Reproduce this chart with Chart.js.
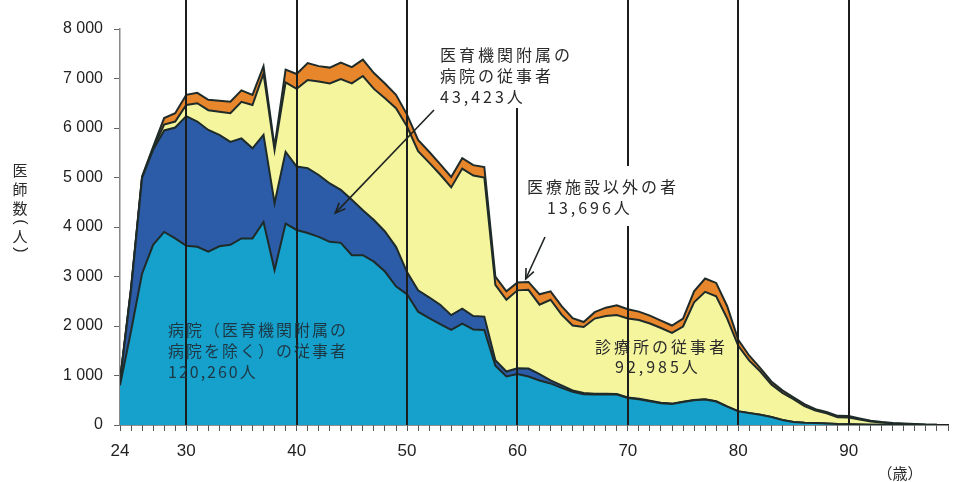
<!DOCTYPE html>
<html lang="ja">
<head>
<meta charset="utf-8">
<title>施設の種別にみた年齢各歳別医師数</title>
<script src="https://cdn.jsdelivr.net/npm/chart.js@4.4.1/dist/chart.umd.min.js"></script>
<style>
    html, body { margin: 0; padding: 0; background: #fff; }
    #wrap { width: 958px; height: 482px; }
</style>
</head>
<body>
<div id="wrap"><canvas id="doctorChart" width="958" height="482"></canvas></div>
<script>
// 年齢（歳）
const ages = [24, 25, 26, 27, 28, 29, 30, 31, 32, 33, 34, 35, 36, 37, 38, 39,
    40, 41, 42, 43, 44, 45, 46, 47, 48, 49, 50, 51, 52, 53, 54, 55, 56, 57, 58, 59,
    60, 61, 62, 63, 64, 65, 66, 67, 68, 69, 70, 71, 72, 73, 74, 75, 76, 77, 78, 79,
    80, 81, 82, 83, 84, 85, 86, 87, 88, 89, 90, 91, 92, 93, 94, 95, 96, 97, 98];

// 病院（医育機関附属の病院を除く）の従事者
const hospital = [800, 1900, 3060, 3640, 3900, 3770, 3620, 3600, 3500, 3610, 3640, 3770, 3770, 4100, 3130, 4070,
    3940, 3880, 3800, 3700, 3680, 3430, 3430, 3300, 3100, 2800, 2640, 2290, 2160, 2040, 1920, 2050, 1930, 1920, 1200, 980,
    1030, 980, 900, 840, 750, 670, 620, 615, 620, 615, 545, 520, 480, 440, 425, 465, 500, 515, 475, 370,
    275, 240, 205, 160, 100, 60, 45, 38, 30, 20, 15, 10, 6, 4, 3, 2, 1, 1, 0];

// 医育機関附属の病院の従事者
const univHospital = [80, 830, 1930, 1920, 2050, 2240, 2620, 2530, 2460, 2250, 2080, 2020, 1820, 1760, 1350, 1450,
    1280, 1310, 1250, 1180, 1070, 1120, 910, 840, 810, 800, 450, 430, 420, 390, 300, 300, 270, 270, 110, 100,
    115, 160, 130, 60, 50, 30, 25, 15, 12, 10, 10, 10, 10, 8, 7, 7, 7, 7, 7, 6,
    5, 4, 3, 3, 2, 2, 1, 1, 1, 1, 1, 0, 0, 0, 0, 0, 0, 0, 0];

// 診療所の従事者
const clinic = [10, 20, 10, 30, 120, 120, 225, 370, 400, 470, 580, 740, 875, 1240, 1070, 1400,
    1570, 1780, 1890, 2020, 2240, 2350, 2710, 2650, 2690, 2800, 2940, 2810, 2720, 2630, 2580, 2830, 2840, 2810, 1520, 1450,
    1575, 1590, 1400, 1630, 1430, 1310, 1335, 1520, 1568, 1595, 1595, 1590, 1560, 1512, 1428, 1518, 1973, 2168, 2118, 1774,
    1320, 1056, 872, 657, 548, 458, 334, 251, 204, 134, 134, 100, 64, 46, 29, 20, 13, 5, 3];

// 医療施設以外の者
const nonMedical = [10, 20, 20, 30, 130, 170, 205, 210, 210, 220, 230, 230, 205, 150, 70, 260,
    300, 340, 310, 320, 330, 330, 330, 320, 300, 270, 240, 230, 220, 210, 210, 210, 210, 210, 170, 170,
    160, 160, 210, 170, 170, 150, 100, 130, 170, 200, 190, 170, 160, 150, 150, 160, 220, 270, 270, 250,
    120, 100, 70, 60, 50, 40, 40, 30, 30, 30, 30, 20, 15, 10, 8, 6, 4, 2, 1];

const yTicks = [0, 1000, 2000, 3000, 4000, 5000, 6000, 7000, 8000];
const xLabels = [24, 30, 40, 50, 60, 70, 80, 90];
const decades = [30, 40, 50, 60, 70, 80, 90];

const jpFont = '"Noto Sans CJK JP", "Noto Sans", sans-serif';
const numFont = '"Liberation Sans", Arial, sans-serif';

// データを {x, y} に変換
function toPoints(values) {
    return ages.map((a, i) => ({ x: a, y: values[i] }));
}

function makeSet(label, values, color, fill) {
    return {
        label: label,
        data: toPoints(values),
        backgroundColor: color,
        borderColor: '#1f2b29',
        borderWidth: 2,
        pointRadius: 0,
        tension: 0,
        fill: fill
    };
}

// 文字間隔をあけて描く
function spacedText(ctx, text, x, y, gap) {
    let cx = x;
    for (const ch of text) {
        ctx.fillText(ch, cx, y);
        cx += ctx.measureText(ch).width + gap;
    }
    return cx;
}

function arrow(ctx, x1, y1, x2, y2) {
    const ang = Math.atan2(y2 - y1, x2 - x1);
    ctx.beginPath();
    ctx.moveTo(x1, y1);
    ctx.lineTo(x2, y2);
    ctx.stroke();
    ctx.beginPath();
    ctx.moveTo(x2 - 11 * Math.cos(ang - 0.4), y2 - 11 * Math.sin(ang - 0.4));
    ctx.lineTo(x2, y2);
    ctx.lineTo(x2 - 11 * Math.cos(ang + 0.4), y2 - 11 * Math.sin(ang + 0.4));
    ctx.stroke();
}

// 縦書きの括弧（90度回転）
function rotatedChar(ctx, ch, x, y) {
    ctx.save();
    ctx.translate(x, y);
    ctx.rotate(Math.PI / 2);
    ctx.textAlign = 'center';
    ctx.textBaseline = 'middle';
    ctx.fillText(ch, 0, 0);
    ctx.restore();
}

//===============================================================
// 10歳ごとの縦線と注記
const overlay = {
    id: 'overlay',
    afterDatasetsDraw(chart) {
        const ctx = chart.ctx;
        const xs = chart.scales.x;
        const area = chart.chartArea;
        ctx.save();
        ctx.strokeStyle = '#1b1d1c';
        ctx.lineWidth = 2;
        decades.forEach(d => {
            const px = Math.round(xs.getPixelForValue(d));
            ctx.beginPath();
            ctx.moveTo(px, 0);
            ctx.lineTo(px, area.bottom);
            ctx.stroke();
        });
        ctx.restore();
    },
    afterDraw(chart) {
        const ctx = chart.ctx;
        const xs = chart.scales.x;
        const ys = chart.scales.y;
        ctx.save();

        // ラベルの下地（縦線を隠す）
        ctx.fillStyle = '#fff';
        ctx.fillRect(432, 0, 162, 108);
        ctx.fillRect(524, 166, 160, 60);

        ctx.fillStyle = '#2a2a2a';
        ctx.textBaseline = 'middle';
        ctx.font = '16px ' + jpFont;
        spacedText(ctx, '医育機関附属の', 440, 55, 3);
        spacedText(ctx, '病院の従事者', 440, 76, 3);
        spacedText(ctx, '43,423人', 440, 97, 3);

        spacedText(ctx, '医療施設以外の者', 527, 187, 3);
        spacedText(ctx, '13,696人', 547, 208, 3);

        spacedText(ctx, '診療所の従事者', 595, 347, 3);
        spacedText(ctx, '92,985人', 615, 367, 3);

        ctx.fillStyle = '#1d3844';
        spacedText(ctx, '病院（医育機関附属の', 168, 330, 2);
        spacedText(ctx, '病院を除く）の従事者', 168, 351, 2);
        spacedText(ctx, '120,260人', 168, 372, 2);

        // 矢印
        ctx.strokeStyle = '#1f2422';
        ctx.lineWidth = 1.6;
        arrow(ctx, 434, 110, xs.getPixelForValue(43.5), ys.getPixelForValue(4280));
        arrow(ctx, 545, 237, xs.getPixelForValue(60.75), ys.getPixelForValue(2950));

        // 軸タイトル
        ctx.fillStyle = '#2a2a2a';
        ctx.textAlign = 'center';
        ctx.font = '15px ' + jpFont;
        ctx.fillText('医', 20, 170);
        ctx.fillText('師', 20, 189);
        ctx.fillText('数', 20, 208);
        ctx.fillText('人', 20, 236);
        ctx.font = '16px ' + numFont;
        rotatedChar(ctx, '(', 20, 222);
        rotatedChar(ctx, ')', 20, 250);

        ctx.font = '15px ' + jpFont;
        ctx.fillText('（歳）', 900, 473);
        ctx.restore();
    }
};

const ctx = document.getElementById('doctorChart').getContext('2d');
const doctorChart = new Chart(ctx, {
    type: 'line',
    data: {
        datasets: [
            makeSet('病院（医育機関附属の病院を除く）の従事者', hospital, '#16a1cc', 'origin'),
            makeSet('医育機関附属の病院の従事者', univHospital, '#2c5ba7', '-1'),
            makeSet('診療所の従事者', clinic, '#f5f59e', '-1'),
            makeSet('医療施設以外の者', nonMedical, '#e8862c', '-1')
        ]
    },
    options: {
        responsive: false,
        devicePixelRatio: 1,
        animation: false,
        layout: { padding: { top: 29, right: 5, left: 0, bottom: 0 } },
        plugins: {
            legend: { display: false },
            tooltip: { enabled: false }
        },
        scales: {
            x: {
                type: 'linear',
                min: 24,
                max: 99,
                afterFit: s => { s.height = 57; },
                border: { display: true, color: '#222', width: 1.5 },
                grid: { drawOnChartArea: false, drawTicks: true, tickLength: 6, color: '#555' },
                ticks: {
                    stepSize: 1,
                    autoSkip: false,
                    maxRotation: 0,
                    padding: 10,
                    color: '#222',
                    font: { family: numFont, size: 17 },
                    callback: v => xLabels.includes(v) ? String(v) : ''
                }
            },
            y: {
                stacked: true,
                min: 0,
                max: 8000,
                afterFit: s => { s.width = 120; },
                afterBuildTicks: s => { s.ticks = yTicks.map(v => ({ value: v })); },
                border: { display: true, color: '#888', width: 1.5 },
                grid: { drawOnChartArea: false, drawTicks: true, tickLength: 6, color: '#666' },
                ticks: {
                    padding: 11,
                    color: '#222',
                    font: { family: numFont, size: 16 },
                    callback: v => String(v).replace(/\B(?=(\d{3})+(?!\d))/g, ' ')
                }
            }
        }
    },
    plugins: [overlay]
});
</script>
</body>
</html>
